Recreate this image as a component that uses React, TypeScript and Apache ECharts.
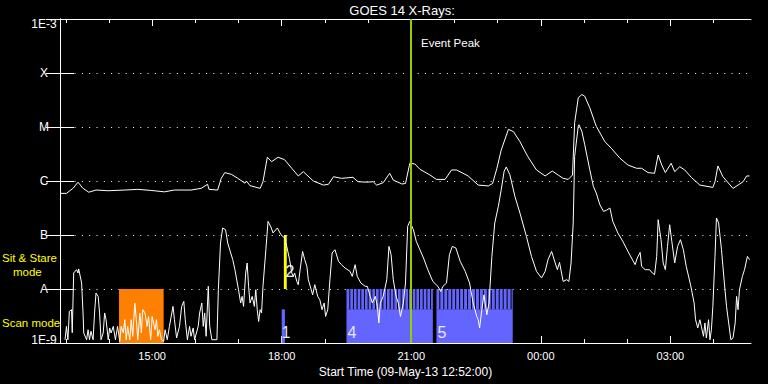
import React, { useEffect, useRef } from "react";
import * as echarts from "echarts";

// ---------- data ----------
const START_CLOCK = "12:52";
const SPAN_MINUTES = 960; // 12:52 -> 04:52

const majorTickTimes = ["15:00", "18:00", "21:00", "00:00", "03:00"];
const minorTickTimes = ["13:00", "14:00", "16:00", "17:00", "19:00", "20:00", "22:00", "23:00", "01:00", "02:00", "04:00"];
const yTickLabels = ["1E-9", "A", "B", "C", "M", "X", "1E-3"];

// [minutes after start, flux W/m^2]
const longChannel: [number, number][] = [
  [1, 5.9e-7], [9, 5.9e-7], [18, 7.3e-7], [25, 9.5e-7], [32, 7.3e-7], [40, 6.2e-7], [50, 6.8e-7], [67, 6.6e-7],
  [90, 6.8e-7], [108, 7.0e-7], [126, 6.7e-7], [145, 6.3e-7], [159, 6.8e-7], [182, 6.8e-7], [196, 7.3e-7],
  [205, 8.7e-7], [207, 7.0e-7], [219, 6.8e-7], [224, 1.12e-6], [229, 1.43e-6], [238, 1.33e-6], [247, 1.12e-6],
  [257, 9.1e-7], [259, 1.0e-6], [264, 8.2e-7], [278, 7.3e-7], [282, 9.7e-7], [288, 2.75e-6], [294, 2.28e-6],
  [303, 2.75e-6], [312, 2.48e-6], [322, 1.72e-6], [331, 1.24e-6], [338, 1.49e-6], [343, 1.29e-6], [352, 1.0e-6],
  [366, 8.4e-7], [373, 8.7e-7], [380, 1.2e-6], [391, 1.12e-6], [407, 1.17e-6], [414, 9.7e-7], [426, 9.5e-7],
  [435, 9.7e-7], [440, 8.4e-7], [449, 9.3e-7], [458, 1.39e-6], [463, 1.04e-6], [475, 8.8e-7], [480, 9.0e-7],
  [486, 2.13e-6], [493, 2.07e-6], [500, 1.65e-6], [514, 1.29e-6], [523, 1.07e-6], [535, 1.07e-6], [544, 1.6e-6],
  [551, 1.6e-6], [567, 1.24e-6], [581, 8.4e-7], [595, 8.1e-7], [601, 9.0e-7], [607, 1.72e-6], [613, 3.75e-6],
  [623, 9.06e-6], [630, 8.2e-6], [639, 5.35e-6], [650, 2.82e-6], [662, 1.6e-6], [674, 1.24e-6], [684, 1.53e-6],
  [692, 1.29e-6], [699, 1.12e-6], [706, 1.07e-6], [712, 1.29e-6], [715, 1.2e-5], [720, 3.47e-5], [725, 4.0e-5],
  [729, 3.72e-5], [736, 2.27e-5], [745, 1.03e-5], [757, 5.35e-6], [766, 4.03e-6], [778, 2.63e-6], [789, 1.98e-6],
  [801, 1.72e-6], [808, 1.72e-6], [817, 1.43e-6], [826, 1.39e-6], [831, 3.03e-6], [836, 1.98e-6], [841, 1.43e-6],
  [849, 2.13e-6], [854, 1.49e-6], [861, 1.84e-6], [868, 1.6e-6], [877, 1.17e-6], [889, 8.4e-7], [907, 7.6e-7],
  [910, 9.7e-7], [914, 1.9e-6], [921, 1.2e-6], [935, 7.3e-7], [942, 8.4e-7], [949, 9.7e-7], [954, 1.24e-6],
  [958, 1.24e-6],
];

const shortChannel: [number, number][] = [
  [7, 1.15e-9], [9, 2.03e-9], [11, 1.15e-9], [13, 3.85e-9], [16, 4.14e-9], [17, 1.55e-9], [19, 1.98e-8], [23, 2.28e-8],
  [25, 1.98e-8], [26, 2.35e-8], [30, 1.29e-8], [32, 3.6e-9], [33, 1.53e-9], [37, 1.15e-9], [39, 1.76e-9], [41, 1.15e-9],
  [43, 1.65e-9], [46, 1.15e-9], [48, 3.6e-9], [50, 8.4e-9], [53, 7.3e-9], [55, 3.6e-9], [57, 1.15e-9], [60, 1.53e-9],
  [62, 3.6e-9], [64, 2.7e-9], [67, 1.15e-9], [69, 1.9e-9], [71, 1.53e-9], [74, 2.03e-9], [77, 1.15e-9], [80, 2.03e-9],
  [83, 1.07e-9], [85, 2.03e-9], [88, 1.53e-9], [90, 2.7e-9], [92, 1.15e-9], [94, 2.03e-9], [97, 1.15e-9], [99, 2.7e-9],
  [101, 1.33e-9], [104, 5.5e-9], [106, 2.7e-9], [108, 1.15e-9], [111, 3.6e-9], [113, 1.53e-9], [115, 4.14e-9],
  [118, 3.6e-9], [121, 2.03e-9], [123, 3.1e-9], [126, 1.15e-9], [128, 3.1e-9], [132, 1.76e-9], [134, 2.7e-9],
  [136, 1.33e-9], [138, 1.76e-9], [141, 1.15e-9], [144, 1.07e-9], [146, 1.76e-9], [149, 1.15e-9], [152, 2.03e-9],
  [157, 4.76e-9], [159, 2.7e-9], [162, 1.24e-9], [166, 2.03e-9], [169, 4.76e-9], [172, 5.9e-9], [174, 2.7e-9],
  [177, 1.15e-9], [180, 2.03e-9], [182, 1.33e-9], [185, 1.9e-9], [187, 1.15e-9], [192, 2.03e-9], [194, 3.6e-9],
  [197, 5.5e-9], [199, 2.03e-9], [201, 3.6e-9], [203, 1.33e-9], [206, 1.12e-8], [208, 2.03e-9], [211, 1.15e-9],
  [218, 1.15e-9], [220, 9.7e-9], [223, 7.1e-8], [226, 1.35e-7], [230, 1.25e-7], [233, 7.1e-8], [240, 3.49e-8],
  [243, 2.28e-8], [248, 9.7e-9], [251, 5.5e-9], [253, 7.3e-9], [255, 4.76e-9], [258, 1.98e-8], [260, 3.03e-8],
  [262, 1.12e-8], [264, 5.5e-9], [267, 7.3e-9], [270, 4.76e-9], [272, 9.7e-9], [274, 4.14e-9], [276, 2.5e-9],
  [278, 4.14e-9], [280, 3.6e-9], [282, 1.12e-8], [286, 5.34e-8], [289, 1.79e-7], [293, 1.41e-7], [296, 1.09e-7],
  [302, 1.35e-7], [307, 1.01e-7], [312, 8.8e-8], [315, 6.15e-8], [319, 3.49e-8], [322, 1.98e-8], [324, 1.71e-8],
  [326, 1.98e-8], [329, 1.38e-8], [331, 1.2e-8], [333, 1.98e-8], [337, 4.97e-8], [340, 3.49e-8], [343, 2.62e-8],
  [345, 1.49e-8], [349, 9.7e-9], [351, 7.8e-9], [354, 1.2e-8], [358, 7.3e-9], [361, 6.3e-9], [364, 4.14e-9],
  [367, 5.5e-9], [369, 3.1e-9], [372, 4.14e-9], [375, 1.49e-8], [378, 4.64e-8], [382, 5.34e-8], [387, 3.24e-8],
  [391, 2.82e-8], [396, 2.45e-8], [403, 2.12e-8], [406, 1.71e-8], [410, 2.82e-8], [413, 1.71e-8], [418, 1.29e-8],
  [424, 1.12e-8], [427, 1.12e-8], [431, 7.3e-9], [434, 5.5e-9], [438, 7.3e-9], [441, 4.76e-9], [443, 2.35e-9],
  [445, 5.5e-9], [449, 7.3e-9], [454, 1.49e-8], [457, 6.15e-8], [460, 4.32e-8], [463, 1.49e-8], [467, 7.3e-9],
  [470, 5.5e-9], [473, 3.1e-9], [477, 5.5e-9], [480, 1.29e-8], [483, 1.44e-7], [486, 1.79e-7], [491, 1.25e-7],
  [495, 7.6e-8], [505, 3.75e-8], [511, 2.28e-8], [518, 1.38e-8], [525, 1.12e-8], [529, 9.0e-9], [532, 1.12e-8],
  [537, 1.29e-8], [541, 4.32e-8], [545, 6.15e-8], [550, 5.74e-8], [556, 3.24e-8], [563, 2.12e-8], [569, 1.29e-8],
  [574, 5.5e-9], [579, 3.1e-9], [581, 2.7e-9], [583, 1.9e-9], [586, 4.14e-9], [589, 7.8e-9], [593, 3.34e-9],
  [596, 5.5e-9], [600, 4.02e-8], [604, 1.67e-7], [609, 3.39e-7], [613, 6.9e-7], [617, 1.51e-6], [620, 1.82e-6],
  [625, 1.31e-6], [632, 5.19e-7], [639, 2.55e-7], [648, 9.4e-8], [655, 4.02e-8], [662, 2.12e-8], [669, 1.6e-8],
  [674, 2.12e-8], [678, 3.49e-8], [683, 4.97e-8], [688, 3.03e-8], [691, 2.28e-8], [694, 3.11e-8], [699, 1.38e-8],
  [704, 1.49e-8], [707, 1.38e-8], [710, 3.03e-8], [713, 1.67e-7], [715, 2.86e-6], [720, 1.03e-5], [721, 1.1e-5],
  [725, 8.3e-6], [729, 4.7e-6], [736, 1.62e-6], [741, 7.94e-7], [745, 6.0e-7], [750, 3.64e-7], [755, 2.74e-7],
  [759, 2.86e-7], [764, 3.16e-7], [768, 1.79e-7], [775, 1.09e-7], [782, 7.6e-8], [789, 4.97e-8], [794, 3.75e-8],
  [799, 2.82e-8], [802, 3.75e-8], [806, 4.76e-8], [808, 2.62e-8], [813, 2.28e-8], [819, 2.28e-8], [823, 1.98e-8],
  [826, 1.84e-8], [829, 4.02e-8], [831, 1.92e-7], [835, 8.2e-8], [838, 3.03e-8], [841, 2.28e-8], [844, 6.15e-8],
  [847, 1.55e-7], [850, 7.6e-8], [854, 3.03e-8], [858, 6.15e-8], [862, 8.2e-8], [866, 5.34e-8], [870, 2.62e-8],
  [876, 1.2e-8], [881, 5.5e-9], [883, 2.7e-9], [886, 1.9e-9], [889, 2.7e-9], [891, 2.03e-9], [894, 1.33e-9],
  [896, 2.35e-9], [898, 1.24e-9], [901, 2.7e-9], [903, 1.15e-9], [905, 1.76e-9], [907, 4.76e-9], [910, 4.02e-8],
  [912, 2.07e-7], [915, 1.67e-7], [919, 5.34e-8], [923, 1.29e-8], [926, 4.76e-9], [929, 2.35e-9], [932, 1.15e-9],
  [935, 1.24e-9], [938, 2.35e-9], [940, 7.3e-9], [942, 4.14e-9], [944, 9.7e-9], [948, 1.71e-8], [951, 2.28e-8],
  [955, 4.02e-8], [958, 3.49e-8],
];

const eventPeakMinute = 487;

// [start, end, low flux, high flux]
const orangeBlocks: number[][] = [[82, 144, 1e-9, 1e-8]];
const sitStareBlocks: number[][] = [[311, 315, 1e-8, 1e-7]];
const scanBlocks: number[][] = [[308, 312.5, 1e-9, 4.2e-9], [398, 518, 1e-9, 4.2e-9], [523, 629, 1e-9, 4.2e-9]];
const scanStripes: number[][] = [
  [398, 402], [403.3, 407], [408.4, 412], [413.5, 417.2], [418.6, 422.3], [423.7, 427.4], [428.8, 432.5],
  [433.9, 437.6], [439, 442.7], [444.1, 447.8], [449.2, 452.9], [454.3, 458], [459.4, 463.1], [464.5, 468.2],
  [469.6, 473.3], [474.7, 478.4], [479.8, 483.5], [484.9, 488.6], [490, 493.7], [495.1, 498.8], [500.2, 503.9],
  [505.3, 509], [510.4, 514.1], [515.5, 518],
  [523, 527], [528.4, 532.5], [533.9, 538], [539.4, 543.5], [544.9, 549], [550.4, 554.5], [555.9, 560],
  [561.4, 565.5], [566.9, 571], [572.4, 576.5], [577.9, 582], [583.4, 587.5], [588.9, 593], [594.4, 598.5],
  [599.9, 604], [605.4, 609.5], [610.9, 615], [616.4, 620.5], [621.9, 626], [627.4, 629],
];
const stripeLevels = [4.2e-9, 1e-8];

const blockLabelText = ["1", "2", "4", "5"];
const blockLabelPos: [number, number][] = [[314, 1.55e-9], [319.5, 2.1e-8], [405.5, 1.55e-9], [530.5, 1.55e-9]];

// ---------- helpers ----------
const clockToMin = (s: string) => {
  const [h, m] = s.split(":").map(Number);
  return h * 60 + m;
};
const START_MIN = clockToMin(START_CLOCK);
const toOffset = (s: string) => (((clockToMin(s) - START_MIN) % 1440) + 1440) % 1440;
const toClock = (off: number) => {
  const t = Math.round(START_MIN + off) % 1440;
  const h = Math.floor(t / 60);
  const m = t % 60;
  return `${String(h).padStart(2, "0")}:${String(m).padStart(2, "0")}`;
};

const FONT = "Liberation Sans";

const rectRenderer = (color: string) => (params: any, api: any) => {
  const p0 = api.coord([api.value(0), api.value(3)]);
  const p1 = api.coord([api.value(1), api.value(2)]);
  return {
    type: "rect",
    shape: { x: p0[0], y: p0[1], width: p1[0] - p0[0], height: p1[1] - p0[1] },
    style: { fill: color },
  };
};

export default function App() {
  const ref = useRef<HTMLDivElement>(null);

  useEffect(() => {
    document.body.style.margin = "0";
    document.body.style.background = "#000";
    if (!ref.current) return;
    const chart = echarts.init(ref.current, undefined, { renderer: "svg" });

    const majorTicks = majorTickTimes.map(toOffset);
    const minorTicks = minorTickTimes.map(toOffset);
    const axisLine = { show: true, lineStyle: { color: "#fff", width: 1 } };

    const baseX = {
      type: "value" as const,
      min: 0,
      max: SPAN_MINUTES,
      splitLine: { show: false },
    };

    const option: any = {
      animation: false,
      backgroundColor: "#000",
      textStyle: { fontFamily: FONT },
      grid: { left: 60, right: 17, top: 19, bottom: 41, containLabel: false },
      xAxis: [
        {
          ...baseX,
          position: "bottom",
          axisLine,
          axisTick: { show: true, inside: true, length: 4, lineStyle: { color: "#fff" }, customValues: minorTicks },
          axisLabel: {
            show: true,
            color: "#fff",
            fontSize: 11,
            fontFamily: FONT,
            margin: 7,
            customValues: majorTicks,
            formatter: (v: number) => toClock(v),
          },
          name: `Start Time (09-May-13 ${START_CLOCK}:00)`,
          nameLocation: "middle",
          nameGap: 19,
          nameTextStyle: { color: "#fff", fontSize: 12, fontFamily: FONT },
        },
        {
          ...baseX,
          position: "bottom",
          axisLine: { show: false },
          axisTick: { show: true, inside: true, length: 7, lineStyle: { color: "#fff" }, customValues: majorTicks },
          axisLabel: { show: false },
        },
        {
          ...baseX,
          position: "top",
          axisLine,
          axisTick: { show: true, inside: true, length: 4, lineStyle: { color: "#fff" }, customValues: minorTicks },
          axisLabel: { show: false },
        },
        {
          ...baseX,
          position: "top",
          axisLine: { show: false },
          axisTick: { show: true, inside: true, length: 7, lineStyle: { color: "#fff" }, customValues: majorTicks },
          axisLabel: { show: false },
        },
      ],
      yAxis: [
        {
          type: "log",
          logBase: 10,
          min: 1e-9,
          max: 1e-3,
          position: "left",
          axisLine,
          axisTick: { show: true, inside: true, length: 14, lineStyle: { color: "#fff" } },
          axisLabel: {
            color: "#fff",
            fontSize: 12,
            fontFamily: FONT,
            align: "center",
            margin: 16,
            formatter: (v: number) => {
              const i = Math.round(Math.log10(v)) + 9;
              const t = yTickLabels[i] ?? "";
              if (i === 0) return `{lo|${t}}`;
              if (i === yTickLabels.length - 1) return `{hi|${t}}`;
              return t;
            },
            rich: {
              lo: { color: "#fff", fontSize: 12, fontFamily: FONT, padding: [0, 0, 7, 0] },
              hi: { color: "#fff", fontSize: 12, fontFamily: FONT, padding: [9, 0, 0, 0] },
            },
          },
          splitLine: { show: true, lineStyle: { color: "#fff", width: 1, type: [1, 6.3] } },
        },
        {
          type: "log",
          logBase: 10,
          min: 1e-9,
          max: 1e-3,
          position: "right",
          axisLine,
          axisTick: { show: true, inside: true, length: 14, lineStyle: { color: "#fff" } },
          axisLabel: { show: false },
          splitLine: { show: false },
        },
      ],
      series: [
        {
          type: "custom",
          name: "orange",
          data: orangeBlocks,
          dimensions: ["x0", "x1", "y0", "y1"],
          encode: { x: [0, 1], y: [2, 3] },
          renderItem: rectRenderer("#ff8000"),
          silent: true,
        },
        {
          type: "custom",
          name: "scan",
          data: scanBlocks,
          dimensions: ["x0", "x1", "y0", "y1"],
          encode: { x: [0, 1], y: [2, 3] },
          renderItem: rectRenderer("#6464ff"),
          silent: true,
        },
        {
          type: "custom",
          name: "scanStripes",
          data: scanStripes.map(([a, b]) => [a, b, stripeLevels[0], stripeLevels[1]]),
          dimensions: ["x0", "x1", "y0", "y1"],
          encode: { x: [0, 1], y: [2, 3] },
          renderItem: rectRenderer("#6464ff"),
          silent: true,
        },
        {
          type: "custom",
          name: "sitStare",
          data: sitStareBlocks,
          dimensions: ["x0", "x1", "y0", "y1"],
          encode: { x: [0, 1], y: [2, 3] },
          renderItem: rectRenderer("#ffff00"),
          silent: true,
        },
        {
          type: "custom",
          name: "blockLabels",
          data: blockLabelPos,
          z: 5,
          renderItem: (params: any, api: any) => {
            const p = api.coord([api.value(0), api.value(1)]);
            return {
              type: "text",
              x: p[0],
              y: p[1],
              style: {
                text: blockLabelText[params.dataIndex],
                fill: "#e8e8ff",
                fontSize: 16,
                fontFamily: FONT,
                align: "center",
                verticalAlign: "middle",
              },
            };
          },
          silent: true,
        },
        {
          type: "line",
          name: "long",
          data: longChannel,
          showSymbol: false,
          symbol: "none",
          lineStyle: { color: "#fff", width: 1 },
          z: 3,
          silent: true,
        },
        {
          type: "line",
          name: "short",
          data: shortChannel,
          showSymbol: false,
          symbol: "none",
          lineStyle: { color: "#fff", width: 1 },
          z: 3,
          silent: true,
          markLine: {
            silent: true,
            symbol: "none",
            label: { show: false },
            lineStyle: { color: "#99cc00", width: 2, type: "solid" },
            data: [{ xAxis: eventPeakMinute }],
            z: 6,
          },
        },
      ],
      graphic: [
        {
          type: "text",
          x: 402,
          y: 10,
          style: { text: "GOES 14 X-Rays:", fill: "#fff", fontSize: 13, fontFamily: FONT, align: "center", verticalAlign: "middle" },
        },
        {
          type: "text",
          x: 421,
          y: 43,
          style: { text: "Event Peak", fill: "#fff", fontSize: 11.5, fontFamily: FONT, align: "left", verticalAlign: "middle" },
        },
        {
          type: "text",
          x: 2,
          y: 258,
          style: { text: "Sit & Stare", fill: "#ffff00", fontSize: 11.5, fontFamily: FONT, align: "left", verticalAlign: "middle" },
        },
        {
          type: "text",
          x: 13,
          y: 272,
          style: { text: "mode", fill: "#ffff00", fontSize: 11.5, fontFamily: FONT, align: "left", verticalAlign: "middle" },
        },
        {
          type: "text",
          x: 2,
          y: 323,
          style: { text: "Scan mode", fill: "#ffff00", fontSize: 11.5, fontFamily: FONT, align: "left", verticalAlign: "middle" },
        },
      ],
    };

    chart.setOption(option);
    return () => chart.dispose();
  }, []);

  return <div ref={ref} style={{ width: 768, height: 384, background: "#000" }} />;
}
